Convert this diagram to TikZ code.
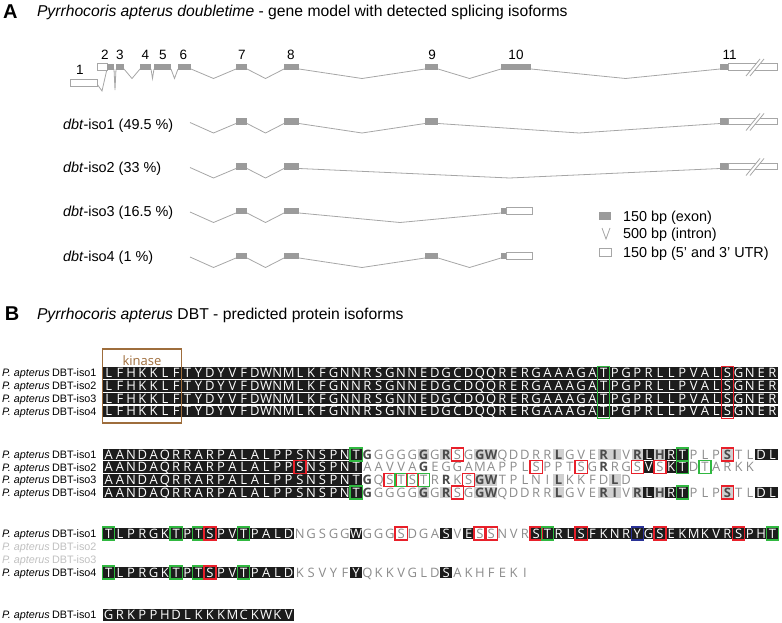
\documentclass[tikz,border=0pt]{standalone}
\usepackage{fontspec}
\setmainfont{Liberation Sans}
\newfontfamily\seqfont{Open Sans}
\definecolor{exonc}{HTML}{9B9B9B}
\definecolor{intc}{HTML}{A6A6A6}
\definecolor{kinc}{HTML}{9E6D3C}
\definecolor{seqbk}{HTML}{1C1C1C}
\definecolor{seqgr}{HTML}{D0D0D0}
\definecolor{txtgr}{HTML}{8C8C8C}
\definecolor{txtdk}{HTML}{4A4A4A}
\definecolor{rboxc}{HTML}{E8202A}
\definecolor{gboxc}{HTML}{30B840}
\definecolor{bboxc}{HTML}{2A3296}
\definecolor{lblgr}{HTML}{C0C0C0}
\newcount\seqi
\def\cw{11.25}
\def\sx{103}
\newcommand\res[1]{%
 \pgfmathsetmacro\xl{\sx+\the\seqi*\cw}%
 \pgfmathsetmacro\xm{\xl+\cw/2}%
 \if k\curst \fill[seqbk] (\xl-0.2,\rowy-5.8) rectangle (\xl+\cw+0.2,\rowy+5.8); \node[sqw] (\rowid c\the\seqi) at (\xm,\rowy+4.5) {#1};\fi
 \if g\curst \fill[seqgr] (\xl-0.2,\rowy-5.8) rectangle (\xl+\cw+0.2,\rowy+5.8); \node[sqd] (\rowid c\the\seqi) at (\xm,\rowy+4.5) {#1};\fi
 \if d\curst \node[sqd] (\rowid c\the\seqi) at (\xm,\rowy+4.5) {#1};\fi
 \if n\curst \node[sqn] (\rowid c\the\seqi) at (\xm,\rowy+4.5) {#1};\fi
}
\def\segloop#1{\ifx#1\relax\else\res{#1}\global\advance\seqi by 1 \expandafter\segloop\fi}
\newcommand\Sg[2]{\gdef\curst{#1}\segloop#2\relax}
\newcommand\srow[3]{\gdef\rowy{#1}\gdef\rowid{#2}\global\seqi=0 #3}
\newcommand\bx[4]{\draw[draw=#1,line width=1.3] ({\sx+#2*\cw-0.4},#3) rectangle ({\sx+#2*\cw+\cw+0.4},#4);}
\newcommand\bxr[3]{\bx{#1}{#2}{#3-6.5}{#3+6.5}}
\newcommand\slab[3]{\node[seql,text=#1] (pl#3a) at (2,#2+3.9) {\textit{P. apterus}}; \node[seql,text=#1] (pl#3b) at (52,#2+3.9) {DBT-iso#3};}
\newcommand\exn[3]{\fill[exonc] (#1,#3-3.2) rectangle (#2,#3+3.2);}
\newcommand\utr[3]{\filldraw[fill=white,draw=intc,line width=0.8] (#1,#3-3.2) rectangle (#2,#3+3.2);}
\newcommand\intr[3]{\draw[intl] (#1,#3+2) -- ({(#1+#2)/2},#3+11.5) -- (#2,#3+2);}
\newcommand\brk[2]{\fill[white] (#1-4,#2+9) -- (#1+10,#2-8) -- (#1+14,#2-8) -- (#1,#2+9) -- cycle;
 \draw[intl] (#1-4,#2+9) -- (#1+10,#2-8) (#1,#2+9) -- (#1+14,#2-8);}
\begin{document}
\begin{tikzpicture}[x=1pt,y=-1pt,every node/.style={inner sep=0pt,outer sep=0pt},
 intl/.style={intc,line width=0.8},
 sqw/.style={anchor=base,text=white,font=\seqfont\fontsize{13}{13}\selectfont},
 sqd/.style={anchor=base,text=txtdk,font=\seqfont\bfseries\fontsize{13}{13}\selectfont},
 sqn/.style={anchor=base,text=txtgr,font=\seqfont\fontsize{13}{13}\selectfont},
 seql/.style={anchor=base west,font=\fontsize{10.8}{12}\selectfont},
 lab/.style={anchor=base west,font=\fontsize{14.4}{16}\selectfont},
 num/.style={anchor=base,font=\fontsize{13.5}{15}\selectfont},
 ttl/.style={anchor=base west,font=\fontsize{15.7}{18}\selectfont},
 pnl/.style={anchor=base west,font=\fontsize{20}{22}\selectfont\bfseries}]
\useasboundingbox (0,0) rectangle (782,623);
% ---------- Panel A ----------
\node[pnl] (pA) at (3,18.3) {A};
\node[ttl] (tA) at (37,17) {\textit{Pyrrhocoris apterus doubletime} - gene model with detected splicing isoforms};
% main gene model
\draw[intl] (97,84) -- (102,91) -- (107,69);
\draw[intl] (114,69) -- (115,90) -- (116,69);
\intr{124}{140}{67}\intr{151}{154}{67}\intr{171}{178}{67}\intr{191}{236}{67}
\intr{247}{284}{67}\intr{299}{425}{67}\intr{438}{501}{67}\intr{531}{720}{67}
\utr{70}{97}{83}\utr{97}{107}{67}\exn{107}{114}{67}\exn{116}{124}{67}\exn{140}{151}{67}
\exn{154}{171}{67}\exn{178}{191}{67}\exn{236}{247}{67}\exn{284}{299}{67}\exn{425}{438}{67}
\exn{501}{531}{67}\exn{720}{728}{67}\utr{728}{777}{67}\brk{750}{67}
\node[num] (n1) at (80,75) {1};
\node[num] (n2) at (105,60) {2};
\node[num] (n3) at (120,60) {3};
\node[num] (n4) at (145.5,60) {4};
\node[num] (n5) at (163,60) {5};
\node[num] (n6) at (183.5,60) {6};
\node[num] (n7) at (242,60) {7};
\node[num] (n8) at (291,60) {8};
\node[num] (n9) at (432,60) {9};
\node[num] (n10) at (516,60) {10};
\node[num] (n11) at (729.5,60) {11};
% iso1
\draw[intl] (190,122.5) -- (213.5,133) -- (236,123.5);
\intr{247}{284}{121.5}\intr{299}{425}{121.5}\intr{438}{720}{121.5}
\exn{236}{247}{121.5}\exn{284}{299}{121.5}\exn{425}{438}{121.5}\exn{720}{728}{121.5}\utr{728}{777}{121.5}\brk{750}{121.5}
\node[lab] (i1) at (63,130) {\textit{dbt}-iso1 (49.5 \%)};
% iso2
\draw[intl] (190,167.5) -- (213.5,178) -- (236,168.5);
\intr{247}{284}{166.5}\intr{299}{720}{166.5}
\exn{236}{247}{166.5}\exn{284}{299}{166.5}\exn{720}{728}{166.5}\utr{728}{777}{166.5}\brk{750}{166.5}
\node[lab] (i2) at (63,172.5) {\textit{dbt}-iso2 (33 \%)};
% iso3
\draw[intl] (190,212) -- (213.5,222.5) -- (236,213);
\intr{247}{284}{211}\intr{299}{501}{211}
\exn{236}{247}{211}\exn{284}{299}{211}\exn{501}{506}{211}\utr{506}{532}{211}
\node[lab] (i3) at (63,216.5) {\textit{dbt}-iso3 (16.5 \%)};
% iso4
\draw[intl] (190,257) -- (213.5,267.5) -- (236,258);
\intr{247}{284}{256}\intr{299}{425}{256}\intr{438}{501}{256}
\exn{236}{247}{256}\exn{284}{299}{256}\exn{425}{438}{256}\exn{501}{506}{256}\utr{506}{532}{256}
\node[lab] (i4) at (63,261.5) {\textit{dbt}-iso4 (1 \%)};
% legend
\fill[exonc] (599,212) rectangle (611,220);
\node[lab] (lg1) at (623,221) {150 bp (exon)};
\draw[intl] (602,228) -- (606,239) -- (610,228);
\node[lab] (lg2) at (623,238) {500 bp (intron)};
\draw[intc,line width=0.8,fill=white] (599,248) rectangle (611,256);
\node[lab] (lg3) at (623,257) {150 bp (5' and 3' UTR)};
% ---------- Panel B ----------
\node[pnl] (pB) at (5,320) {B};
\node[ttl] (tB) at (37,319) {\textit{Pyrrhocoris apterus} DBT - predicted protein isoforms};
% block 1
\slab{black}{373}{1}
\srow{373}{a1}{\Sg k{LFHKKLFTYDYVFDWNMLKFGNNRSGNNEDGCDQQRERGAAAGATPGPRLLPVALSGNER}}
\slab{black}{385.8}{2}
\srow{385.8}{a2}{\Sg k{LFHKKLFTYDYVFDWNMLKFGNNRSGNNEDGCDQQRERGAAAGATPGPRLLPVALSGNER}}
\slab{black}{398.6}{3}
\srow{398.6}{a3}{\Sg k{LFHKKLFTYDYVFDWNMLKFGNNRSGNNEDGCDQQRERGAAAGATPGPRLLPVALSGNER}}
\slab{black}{411.4}{4}
\srow{411.4}{a4}{\Sg k{LFHKKLFTYDYVFDWNMLKFGNNRSGNNEDGCDQQRERGAAAGATPGPRLLPVALSGNER}}
\bx{gboxc}{44}{366.6}{418.6}
\bx{rboxc}{55}{366.6}{418.6}
\draw[kinc,line width=1.2] (102.5,349) rectangle (181.8,423);
\node[anchor=base,text=kinc,font=\seqfont\fontsize{13}{14}\selectfont] (kin) at (142,365) {kinase};
% block 2
\slab{black}{454.5}{1}
\srow{454.5}{b1}{\Sg k{AANDAQRRARPALALPPSNSPNT}\Sg d{G}\Sg n{GGGG}\Sg g{G}\Sg n{G}\Sg g{R}\Sg n{SG}\Sg g{GW}\Sg n{QDDRR}\Sg g{L}\Sg n{GVE}\Sg g{RI}\Sg n{V}\Sg g{R}\Sg k{L}\Sg g{H}\Sg k{RT}\Sg n{PLP}\Sg g{S}\Sg n{TL}\Sg k{DL}}
\slab{black}{467.2}{2}
\srow{467.2}{b2}{\Sg k{AANDAQRRARPALALPPSNSPNT}\Sg n{AAVVA}\Sg d{G}\Sg n{EGGAMAPPLSPPTSG}\Sg d{R}\Sg n{RGS}\Sg k{V}\Sg n{S}\Sg k{KT}\Sg n{DTARKK}}
\slab{black}{479.9}{3}
\srow{479.9}{b3}{\Sg k{AANDAQRRARPALALPPSNSPNT}\Sg d{G}\Sg n{QSTSTR}\Sg d{R}\Sg n{KS}\Sg g{GW}\Sg n{TPLNI}\Sg g{L}\Sg n{KKFD}\Sg g{L}\Sg n{D}}
\slab{black}{492.6}{4}
\srow{492.6}{b4}{\Sg k{AANDAQRRARPALALPPSNSPNT}\Sg d{G}\Sg n{GGGG}\Sg g{G}\Sg n{G}\Sg g{R}\Sg n{SG}\Sg g{GW}\Sg n{QDDRR}\Sg g{L}\Sg n{GVE}\Sg g{RI}\Sg n{V}\Sg g{R}\Sg k{L}\Sg g{H}\Sg k{RT}\Sg n{PLP}\Sg g{S}\Sg n{TL}\Sg k{DL}}
\bxr{gboxc}{22}{454.5}\bxr{rboxc}{31}{454.5}\bxr{gboxc}{51}{454.5}\bxr{rboxc}{55}{454.5}
\bxr{rboxc}{17}{467.2}\bxr{rboxc}{38}{467.2}\bxr{rboxc}{42}{467.2}\bxr{rboxc}{47}{467.2}\bxr{rboxc}{49}{467.2}\bxr{gboxc}{51}{467.2}\bxr{gboxc}{53}{467.2}
\bxr{rboxc}{25}{479.9}\bxr{gboxc}{26}{479.9}\bxr{rboxc}{27}{479.9}\bxr{gboxc}{28}{479.9}\bxr{rboxc}{32}{479.9}
\bxr{gboxc}{22}{492.6}\bxr{rboxc}{31}{492.6}\bxr{gboxc}{51}{492.6}\bxr{rboxc}{55}{492.6}
% block 3
\slab{black}{533.5}{1}
\srow{533.5}{c1}{\Sg k{TLPRGKTPTSPVTPALD}\Sg n{NGSGG}\Sg k{W}\Sg n{GGGSDGA}\Sg k{S}\Sg n{V}\Sg k{E}\Sg n{SSNVR}\Sg k{STRLSFKNRYGSEKMKVRSPHT}}
\slab{lblgr}{546.5}{2}
\slab{lblgr}{559.5}{3}
\slab{black}{572.5}{4}
\srow{572.5}{c4}{\Sg k{TLPRGKTPTSPVTPALD}\Sg n{KSVYF}\Sg k{Y}\Sg n{QKKVGLD}\Sg k{S}\Sg n{AKHFEKI}}
\bxr{gboxc}{0}{533.5}\bxr{gboxc}{6}{533.5}\bxr{gboxc}{8}{533.5}\bxr{rboxc}{9}{533.5}\bxr{gboxc}{12}{533.5}
\bxr{rboxc}{26}{533.5}\bxr{rboxc}{33}{533.5}\bxr{rboxc}{34}{533.5}\bxr{rboxc}{38}{533.5}\bxr{gboxc}{39}{533.5}
\bxr{rboxc}{42}{533.5}\bxr{bboxc}{47}{533.5}\bxr{rboxc}{49}{533.5}\bxr{rboxc}{56}{533.5}\bxr{gboxc}{59}{533.5}
\bxr{gboxc}{0}{572.5}\bxr{gboxc}{6}{572.5}\bxr{gboxc}{8}{572.5}\bxr{rboxc}{9}{572.5}\bxr{gboxc}{12}{572.5}
% block 4
\slab{black}{615}{1}
\srow{615}{d1}{\Sg k{GRKPPHDLKKKMCKWKV}}
\end{tikzpicture}
\end{document}
